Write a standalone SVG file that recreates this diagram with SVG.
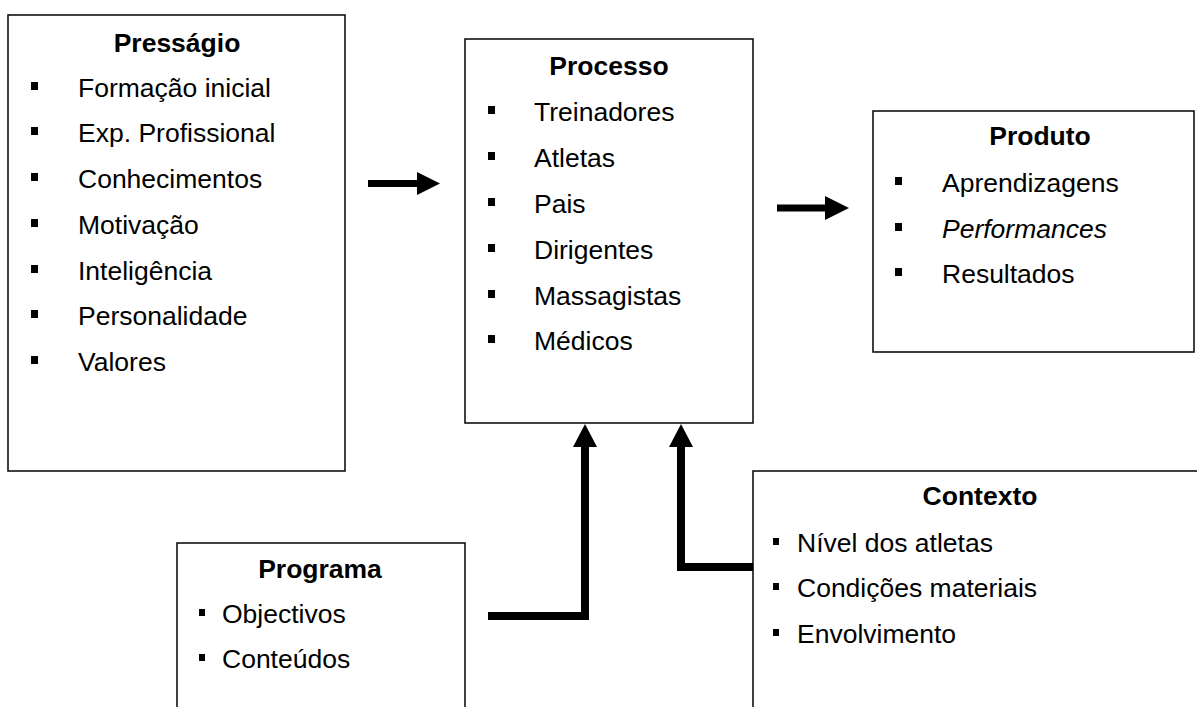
<svg xmlns="http://www.w3.org/2000/svg" width="1197" height="707" viewBox="0 0 1197 707">
<style>
.box{fill:#fff;stroke:#111;stroke-width:1.6}
.t{font-family:"Liberation Sans",Arial,sans-serif;font-size:26.5px;fill:#000}
.h{font-weight:bold;text-anchor:middle}
.b{fill:#000}
.c{fill:none;stroke:#000;stroke-width:8;stroke-linejoin:miter;stroke-linecap:butt}
.ah{fill:#000}
</style>
<rect width="1197" height="707" fill="#fff"/>
<g id="pressagio">
<rect class="box" x="8" y="15" width="337" height="456"/>
<text class="t h" x="177" y="52">Presságio</text>
<rect class="b" x="31" y="82" width="7" height="8"/><text class="t" x="78" y="97">Formação inicial</text>
<rect class="b" x="31" y="127" width="7" height="8"/><text class="t" x="78" y="142">Exp. Profissional</text>
<rect class="b" x="31" y="173" width="7" height="8"/><text class="t" x="78" y="188">Conhecimentos</text>
<rect class="b" x="31" y="219" width="7" height="8"/><text class="t" x="78" y="234">Motivação</text>
<rect class="b" x="31" y="265" width="7" height="8"/><text class="t" x="78" y="280">Inteligência</text>
<rect class="b" x="31" y="310" width="7" height="8"/><text class="t" x="78" y="325">Personalidade</text>
<rect class="b" x="31" y="356" width="7" height="8"/><text class="t" x="78" y="371">Valores</text>
</g>
<g id="processo">
<rect class="box" x="465" y="39" width="288" height="384"/>
<text class="t h" x="609" y="75">Processo</text>
<rect class="b" x="488" y="106" width="7" height="8"/><text class="t" x="534" y="121">Treinadores</text>
<rect class="b" x="488" y="152" width="7" height="8"/><text class="t" x="534" y="167">Atletas</text>
<rect class="b" x="488" y="198" width="7" height="8"/><text class="t" x="534" y="213">Pais</text>
<rect class="b" x="488" y="244" width="7" height="8"/><text class="t" x="534" y="259">Dirigentes</text>
<rect class="b" x="488" y="290" width="7" height="8"/><text class="t" x="534" y="305">Massagistas</text>
<rect class="b" x="488" y="335" width="7" height="8"/><text class="t" x="534" y="350">Médicos</text>
</g>
<g id="produto">
<rect class="box" x="873" y="111" width="321" height="241"/>
<text class="t h" x="1040" y="145">Produto</text>
<rect class="b" x="895" y="177" width="7" height="8"/><text class="t" x="942" y="192">Aprendizagens</text>
<rect class="b" x="895" y="223" width="7" height="8"/><text class="t" x="942" y="238" font-style="italic">Performances</text>
<rect class="b" x="895" y="268" width="7" height="8"/><text class="t" x="942" y="283">Resultados</text>
</g>
<g id="programa">
<rect class="box" x="177" y="543" width="288" height="180"/>
<text class="t h" x="320" y="578">Programa</text>
<rect class="b" x="199" y="609" width="6" height="7"/><text class="t" x="222" y="623">Objectivos</text>
<rect class="b" x="199" y="654" width="6" height="7"/><text class="t" x="222" y="668">Conteúdos</text>
</g>
<g id="contexto">
<rect class="box" x="753" y="471" width="460" height="260"/>
<text class="t h" x="980" y="505">Contexto</text>
<rect class="b" x="773" y="538" width="6" height="7"/><text class="t" x="797" y="552">Nível dos atletas</text>
<rect class="b" x="773" y="583" width="6" height="7"/><text class="t" x="797" y="597">Condições materiais</text>
<rect class="b" x="773" y="629" width="6" height="7"/><text class="t" x="797" y="643">Envolvimento</text>
</g>
<g id="connectors">
<path class="c" d="M368,183.5 H418" style="stroke-width:7"/>
<polygon class="ah" points="417,172 440,183.5 417,195"/>
<path class="c" d="M777,208 H826" style="stroke-width:7"/>
<polygon class="ah" points="825,196 849,208 825,220"/>
<path class="c" d="M488,616 H585 V446"/>
<polygon class="ah" points="573,447 585,424 597,447"/>
<path class="c" d="M753,567 H681 V446"/>
<polygon class="ah" points="669,447 681,424 693,447"/>
</g>
</svg>
